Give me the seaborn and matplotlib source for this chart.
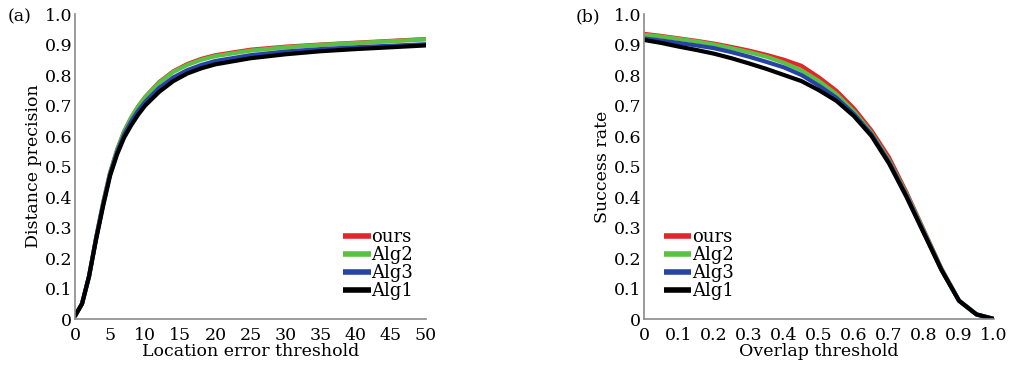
import pandas as pd
import matplotlib
matplotlib.use('Agg')
import matplotlib.pyplot as plt
import seaborn as sns

# (a) precision plot
loc_thr = [0, 1, 2, 3, 4, 5, 6, 7, 8, 9, 10, 12, 14, 16, 18, 20, 25, 30, 35, 40, 45, 50]
prec_ours = [0.01, 0.05, 0.14, 0.265, 0.38, 0.48, 0.555, 0.615, 0.66, 0.697, 0.728, 0.777, 0.812, 0.836, 0.853, 0.865, 0.883, 0.893, 0.9, 0.906, 0.912, 0.918]
prec_alg2 = [0.01, 0.05, 0.14, 0.265, 0.38, 0.48, 0.555, 0.615, 0.66, 0.697, 0.727, 0.775, 0.81, 0.833, 0.85, 0.862, 0.88, 0.891, 0.899, 0.905, 0.911, 0.917]
prec_alg3 = [0.01, 0.05, 0.14, 0.265, 0.375, 0.475, 0.548, 0.605, 0.648, 0.683, 0.712, 0.758, 0.792, 0.816, 0.833, 0.846, 0.865, 0.877, 0.885, 0.891, 0.896, 0.901]
prec_alg1 = [0.01, 0.05, 0.14, 0.26, 0.37, 0.47, 0.54, 0.595, 0.635, 0.67, 0.70, 0.745, 0.78, 0.805, 0.822, 0.835, 0.855, 0.868, 0.878, 0.885, 0.891, 0.897]

# (b) success plot
ovl_thr = [0, 0.05, 0.1, 0.15, 0.2, 0.25, 0.3, 0.35, 0.4, 0.45, 0.5, 0.55, 0.6, 0.65, 0.7, 0.75, 0.8, 0.85, 0.9, 0.95, 1.0]
succ_ours = [0.935, 0.928, 0.92, 0.912, 0.903, 0.892, 0.88, 0.866, 0.85, 0.83, 0.792, 0.748, 0.69, 0.618, 0.53, 0.415, 0.29, 0.165, 0.06, 0.015, 0.0]
succ_alg2 = [0.932, 0.926, 0.918, 0.91, 0.9, 0.888, 0.875, 0.86, 0.84, 0.815, 0.78, 0.737, 0.68, 0.61, 0.52, 0.41, 0.287, 0.163, 0.06, 0.015, 0.0]
succ_alg3 = [0.92, 0.913, 0.905, 0.897, 0.888, 0.875, 0.86, 0.843, 0.825, 0.80, 0.765, 0.725, 0.672, 0.605, 0.515, 0.405, 0.283, 0.162, 0.06, 0.015, 0.0]
succ_alg1 = [0.915, 0.905, 0.893, 0.882, 0.87, 0.855, 0.838, 0.82, 0.80, 0.78, 0.75, 0.715, 0.665, 0.60, 0.51, 0.40, 0.28, 0.16, 0.06, 0.015, 0.0]

methods = ['ours', 'Alg2', 'Alg3', 'Alg1']
colors = {'ours': '#e3262b', 'Alg2': '#5cc142', 'Alg3': '#2544a6', 'Alg1': '#000000'}

prec = pd.DataFrame({'thr': loc_thr, 'ours': prec_ours, 'Alg2': prec_alg2,
                     'Alg3': prec_alg3, 'Alg1': prec_alg1}).melt('thr', var_name='method', value_name='val')
succ = pd.DataFrame({'thr': ovl_thr, 'ours': succ_ours, 'Alg2': succ_alg2,
                     'Alg3': succ_alg3, 'Alg1': succ_alg1}).melt('thr', var_name='method', value_name='val')

sns.set_style('white')
plt.rcParams['font.family'] = ['DejaVu Serif']
plt.rcParams['text.color'] = 'black'
plt.rcParams['axes.labelcolor'] = 'black'
plt.rcParams['xtick.color'] = 'black'
plt.rcParams['ytick.color'] = 'black'
fs = 12.5

fig = plt.figure(figsize=(10.15, 3.69), dpi=100)
ax1 = fig.add_axes([0.0739, 0.1355, 0.3458, 0.8265])
ax2 = fig.add_axes([0.6345, 0.1355, 0.3448, 0.8265])

sns.lineplot(data=prec, x='thr', y='val', hue='method', hue_order=methods,
             palette=colors, linewidth=3, ax=ax1)
sns.lineplot(data=succ, x='thr', y='val', hue='method', hue_order=methods,
             palette=colors, linewidth=3, ax=ax2)

yt = [i / 10 for i in range(11)]
ylab = ['0'] + ['%.1f' % v for v in yt[1:]]
for ax in (ax1, ax2):
    ax.set_ylim(0, 1)
    ax.set_yticks(yt)
    ax.set_yticklabels(ylab)
    sns.despine(ax=ax)
    for s in ('left', 'bottom'):
        ax.spines[s].set_color('#8a8a8a')
        ax.spines[s].set_linewidth(1.2)
    ax.tick_params(direction='in', length=4, color='#8a8a8a', labelsize=fs)
    ax.tick_params(axis='y', pad=2)
    ax.tick_params(axis='x', pad=6)

ax1.set_xlim(0, 50)
ax1.set_xticks(range(0, 51, 5))
ax1.set_xlabel('Location error threshold', fontsize=fs, labelpad=-1)
ax1.set_ylabel('Distance precision', fontsize=fs, labelpad=2)

ax2.set_xlim(0, 1)
ax2.set_xticks(yt)
ax2.set_xticklabels(ylab)
ax2.set_xlabel('Overlap threshold', fontsize=fs, labelpad=-1)
ax2.set_ylabel('Success rate', fontsize=fs, labelpad=2)

leg_kw = dict(frameon=False, handlelength=1.5, handletextpad=0.05, labelspacing=0.0,
              fontsize=13, borderaxespad=0.3)
l1 = ax1.legend(loc='lower right', bbox_to_anchor=(1.0, 0.02), **leg_kw)
l2 = ax2.legend(loc='lower left', bbox_to_anchor=(0.02, 0.02), **leg_kw)
for leg in (l1, l2):
    for h in leg.get_lines():
        h.set_linewidth(4)
        h.set_solid_capstyle('butt')

fig.text(0.008, 0.953, '(a)', fontsize=fs, va='center')
fig.text(0.567, 0.953, '(b)', fontsize=fs, va='center')

fig.savefig('out.png', dpi=100)
plt.close()
